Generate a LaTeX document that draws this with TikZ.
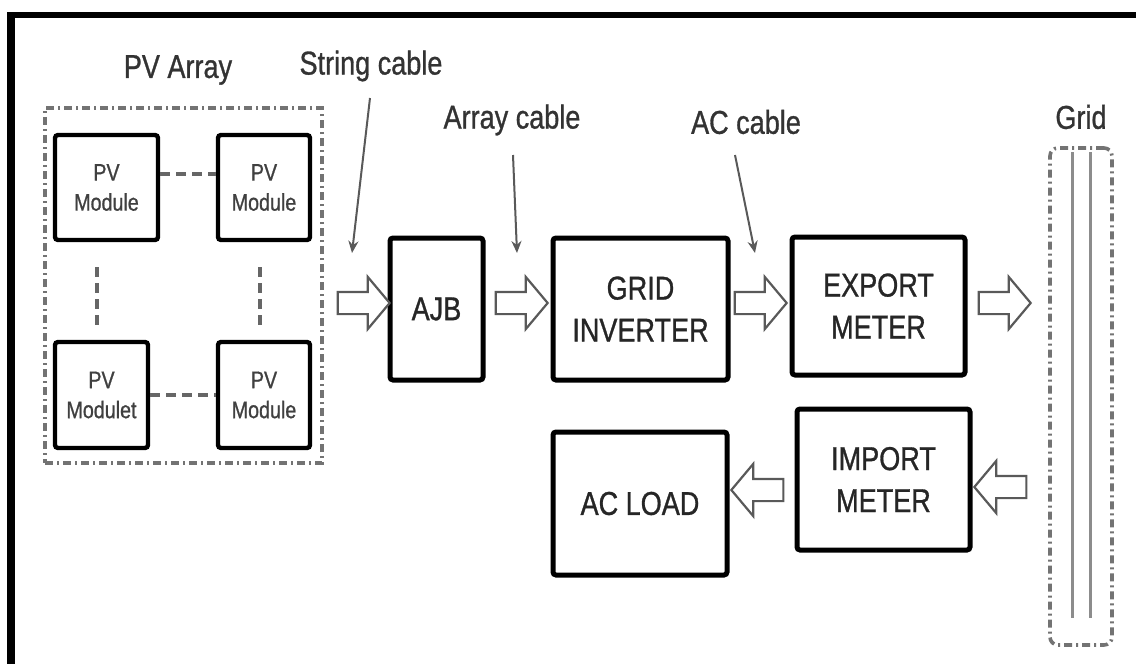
\documentclass[tikz,border=0pt]{standalone}
\usepackage{fontspec}
\setmainfont{Liberation Sans}[FakeStretch=0.82,FakeBold=0.9]
\usetikzlibrary{shapes.arrows,arrows.meta}
\begin{document}
\begin{tikzpicture}[x=0.5pt,y=-0.5pt,
  box/.style={draw=black, line width=2.5pt, rounded corners=1.5pt, inner sep=0pt, align=center,
              font=\fontsize{16.5}{21}\selectfont, text=black!85},
  mod/.style={box, line width=2.2pt, font=\fontsize{12}{15}\selectfont, text=black!75},
  lbl/.style={inner sep=0pt, font=\fontsize{16.5}{21}\selectfont, text=black!80},
  barrow/.style={single arrow, draw=black!65, line width=1.1pt, fill=white, inner xsep=0pt, inner ysep=5pt,
                 single arrow head extend=7.5pt, single arrow tip angle=100, single arrow head indent=0pt,
                 minimum height=26pt},
  callout/.style={draw=black!65, line width=1pt, -{Stealth[length=6pt,width=5pt]}},
  pvdash/.style={draw=black!60, line width=2pt, dash pattern=on 5pt off 3pt},
  dashdot/.style={draw=black!55, line width=1.8pt, dash pattern=on 4pt off 2pt on 1pt off 2pt},
]
\useasboundingbox (0,0) rectangle (1136,664);
% outer frame
\draw[line width=4pt] (11,664) -- (11,12);
\draw[line width=3pt] (7,15) -- (1136,15);

% PV array
\node[dashdot, draw, minimum width=138.5pt, minimum height=177.5pt, inner sep=0pt] (pvarr) at (183.5,285.5) {};
\node[lbl] (pvlbl) at (178,70) {PV Array};
\node[mod, minimum width=51.5pt, minimum height=52.5pt] (TL) at (106.5,187.5) {PV\\Module};
\node[mod, minimum width=46pt, minimum height=52.5pt] (TR) at (264,187.5) {PV\\Module};
\node[mod, minimum width=46.5pt, minimum height=53pt] (BL) at (101.5,395) {PV\\Modulet};
\node[mod, minimum width=46pt, minimum height=53pt] (BR) at (264,395) {PV\\Module};
\draw[pvdash] ([yshift=6.75pt]TL.east) -- ([yshift=6.75pt]TR.west);
\draw[pvdash] (BL.east) -- (BR.west);
\draw[pvdash] ([xshift=-4.75pt,yshift=-12.5pt]TL.south) -- ([xshift=-2.25pt,yshift=5pt]BL.north);
\draw[pvdash] ([xshift=-2pt,yshift=-12.5pt]TR.south) -- ([xshift=-2pt,yshift=5pt]BR.north);

% main boxes
\node[box, minimum width=46.5pt, minimum height=71pt] (ajb) at (436.5,309) {AJB};
\node[box, minimum width=87.5pt, minimum height=71pt] (inv) at (640.5,309) {GRID\\INVERTER};
\node[box, minimum width=86.5pt, minimum height=69pt] (exp) at (878.5,306) {EXPORT\\METER};
\node[box, minimum width=86.5pt, minimum height=70.5pt] (imp) at (883.5,479.5) {IMPORT\\METER};
\node[box, minimum width=87pt, minimum height=71.5pt] (load) at (640,503.5) {AC LOAD};

% block arrows
\node[barrow] (a1) at (359,303) {};
\node[barrow] (a2) at (517,303) {};
\node[barrow] (a3) at (756,303) {};
\node[barrow] (a4) at (1000,303) {};
\node[barrow, shape border rotate=180] (a5) at (1005,487) {};
\node[barrow, shape border rotate=180] (a6) at (762,490) {};

% grid
\node[lbl] (gridlbl) at (1081,117) {Grid};
\node[dashdot, draw, rounded corners=4pt, minimum width=31pt, minimum height=248.5pt, inner sep=0pt] (gridbox) at (1081,396.5) {};
\draw[draw=black!45, line width=1.5pt] (1072,152) -- (1072,618);
\draw[draw=black!45, line width=1.5pt] (1090,152) -- (1090,618);

% cable labels
\node[lbl] (sclbl) at (371,66) {String cable};
\node[lbl] (arlbl) at (512,120) {Array cable};
\node[lbl] (aclbl) at (746,122) {AC cable};
\coordinate (s1) at (370,98);  \coordinate (e1) at (352,253);
\coordinate (s2) at (513,155); \coordinate (e2) at (517,253);
\coordinate (s3) at (735,155); \coordinate (e3) at (755,253);
\draw[callout] (s1) -- (e1);
\draw[callout] (s2) -- (e2);
\draw[callout] (s3) -- (e3);
\end{tikzpicture}
\end{document}
